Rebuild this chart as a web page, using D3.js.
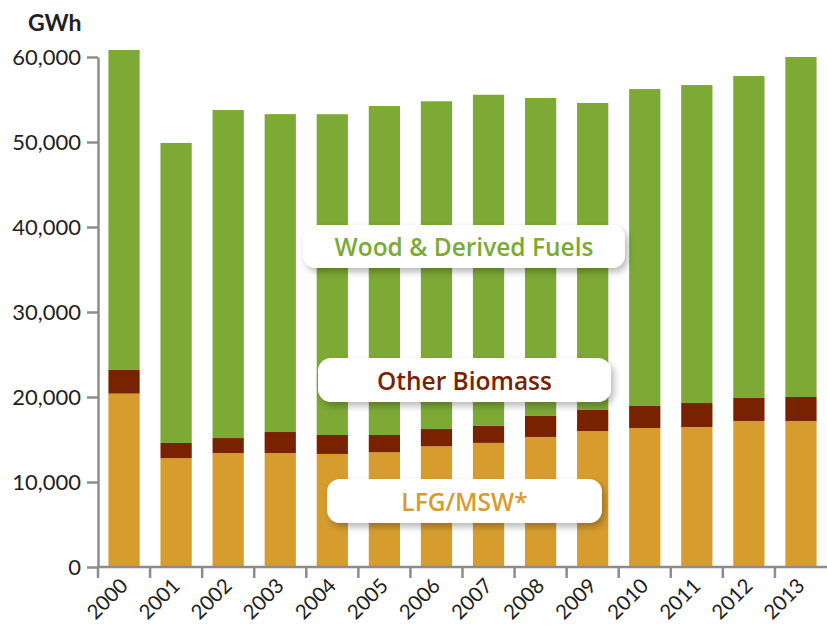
<!DOCTYPE html>
<html>
<head>
<meta charset="utf-8">
<script src="https://cdn.jsdelivr.net/npm/d3@7"></script>
<style>
  html, body { margin: 0; padding: 0; background: #fff; }
  svg { display: block; }
</style>
</head>
<body>
<svg id="chart" width="827" height="625"></svg>
<script>
// Biomass electricity generation by source, GWh
const years = ["2000","2001","2002","2003","2004","2005","2006","2007","2008","2009","2010","2011","2012","2013"];
const lfgMsw       = [20400, 12800, 13400, 13400, 13300, 13500, 14200, 14600, 15300, 16000, 16350, 16470, 17180, 17180];
const otherBiomass = [2780, 1790, 1770, 2480, 2230, 2030, 2030, 2000, 2470, 2470, 2590, 2820, 2700, 2820];
const woodDerived  = [37640, 35300, 38590, 37400, 37740, 38700, 38560, 38960, 37410, 36120, 37290, 37410, 37880, 40000];
const yTicks = [0, 10000, 20000, 30000, 40000, 50000, 60000];

const seriesNames = ["LFG/MSW*", "Other Biomass", "Wood & Derived Fuels"];
const seriesKeys = ["lfg", "other", "wood"];
const colors = { lfg: "#D69D2E", other: "#782200", wood: "#7DA935" };

const rows = years.map((y, i) => ({ year: y, lfg: lfgMsw[i], other: otherBiomass[i], wood: woodDerived[i] }));

const svg = d3.select("#chart");
const font = "Lato, 'Open Sans', sans-serif";

const x = d3.scaleBand().domain(years).range([98, 827]).paddingInner(0.4).paddingOuter(0.2);
const y = d3.scaleLinear().domain([0, 60000]).range([567, 57]);

const stack = d3.stack().keys(seriesKeys);
const layers = stack(rows);

// Stacked bars
svg.append("g").selectAll("g")
  .data(layers)
  .join("g")
  .attr("fill", d => colors[d.key])
  .selectAll("rect")
  .data(d => d)
  .join("rect")
  .attr("x", d => x(d.data.year))
  .attr("width", x.bandwidth())
  .attr("y", d => y(d[1]))
  .attr("height", d => y(d[0]) - y(d[1]));

const axisColor = "#8c8c8c";

// Y axis
const yAxis = svg.append("g")
  .attr("transform", "translate(98,0)")
  .call(d3.axisLeft(y).tickValues(yTicks).tickFormat(d3.format(",")).tickSize(11).tickSizeOuter(0).tickPadding(6));
yAxis.select(".domain").attr("stroke", axisColor).attr("stroke-width", 2.5);
yAxis.selectAll(".tick line").attr("stroke", axisColor).attr("stroke-width", 2.5);
yAxis.selectAll(".tick text")
  .attr("fill", "#231F20")
  .style("font-family", font)
  .style("font-weight", 400)
  .style("font-size", "22px")
  .attr("dy", "0.36em");

// X axis baseline and boundary ticks
const xAxis = svg.append("g").attr("transform", "translate(0,567)");
xAxis.append("line")
  .attr("x1", 98).attr("x2", 827)
  .attr("stroke", axisColor).attr("stroke-width", 2.5);
const half = x.step() * x.paddingInner() / 2;
xAxis.selectAll("line.tk")
  .data(years)
  .join("line")
  .attr("class", "tk")
  .attr("x1", d => x(d) - half).attr("x2", d => x(d) - half)
  .attr("y1", 0).attr("y2", 11)
  .attr("stroke", axisColor).attr("stroke-width", 2.5);
xAxis.selectAll("text")
  .data(years)
  .join("text")
  .attr("transform", d => `translate(${x(d) + x.bandwidth() / 2 + 5},${20}) rotate(-45)`)
  .attr("text-anchor", "end")
  .attr("fill", "#231F20")
  .style("font-family", font)
  .style("font-weight", 400)
  .style("font-size", "20.5px")
  .text(d => d);

// Unit label
svg.append("text")
  .attr("x", 28).attr("y", 31)
  .attr("fill", "#231F20")
  .style("font-family", font)
  .style("font-weight", 700)
  .style("font-size", "23px")
  .text("GWh");

// Series labels in rounded white callouts
const defs = svg.append("defs");
const f = defs.append("filter").attr("id", "shadow").attr("x", "-20%").attr("y", "-40%").attr("width", "140%").attr("height", "200%");
f.append("feDropShadow").attr("dx", 3).attr("dy", 4).attr("stdDeviation", 3.5)
  .attr("flood-color", "#000").attr("flood-opacity", 0.28);

const callouts = [
  { key: "wood",  x0: 303, x1: 625, y0: 225, y1: 268 },
  { key: "other", x0: 318, x1: 611, y0: 358, y1: 402 },
  { key: "lfg",   x0: 327, x1: 602, y0: 479, y1: 523 }
];
const cg = svg.append("g").selectAll("g").data(callouts).join("g");
cg.append("rect")
  .attr("x", d => d.x0).attr("y", d => d.y0)
  .attr("width", d => d.x1 - d.x0).attr("height", d => d.y1 - d.y0)
  .attr("rx", 13).attr("ry", 13)
  .attr("fill", "#fff")
  .attr("filter", "url(#shadow)");
cg.append("text")
  .attr("x", d => (d.x0 + d.x1) / 2)
  .attr("y", d => d.y1 - 12)
  .attr("text-anchor", "middle")
  .attr("fill", d => colors[d.key])
  .style("font-family", "'Open Sans', Lato, sans-serif")
  .style("font-weight", 600)
  .style("font-size", "24.5px")
  .text(d => seriesNames[seriesKeys.indexOf(d.key)]);
</script>
</body>
</html>
